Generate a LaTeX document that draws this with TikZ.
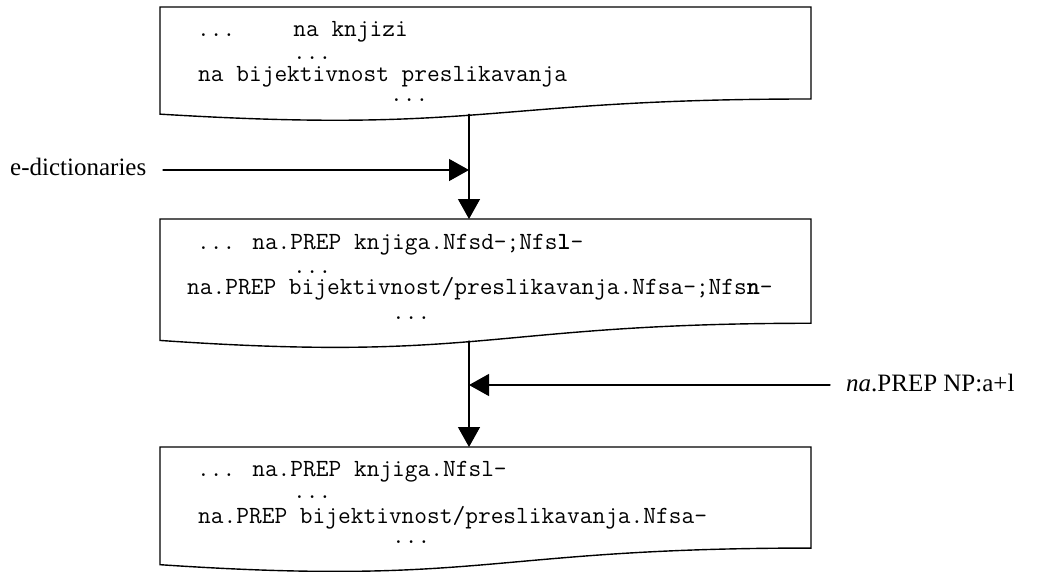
\documentclass[tikz,border=0pt]{standalone}
\usepackage{fontspec}
\setmainfont{Liberation Serif}
\usetikzlibrary{arrows.meta}
\tikzset{
  docbox/.style={line width=1.4pt,line join=miter},
  flow/.style={line width=1.3pt,-{Triangle[length=20pt,width=22pt]}},
  src/.style={font=\ttfamily\fontsize{24.7}{22}\selectfont,align=left,anchor=base west,inner sep=0pt},
  lbl/.style={font=\fontsize{25}{28}\selectfont,anchor=base west,inner sep=0pt}
}
\begin{document}
\begin{tikzpicture}[x=1pt,y=-1pt,line cap=round]
  \useasboundingbox (0,0) rectangle (1049,571);
  \foreach \t/\h in {7/114.7,219/130,447/126}
    \draw[docbox] (160,{\t+0.934*\h}) -- (160,\t) -- (811,\t) -- (811,{\t+0.802*\h})
      .. controls (485.5,{\t+0.802*\h}) and (485.5,{\t+1.1075*\h}) .. (160,{\t+0.934*\h}) -- cycle;

  % base anchor sits on the last line
  \node[src] (text1) at (197,101.5) {...\hspace{58pt}na knjizi\\[1pt]
    \hspace*{96pt}...\\
    \hspace*{1pt}na bijektivnost preslikavanja\\[-2pt]
    \hspace*{193pt}...};
  \node[src] (text2) at (187,319.5) {\hspace*{10pt}... na.PREP knjiga.Nfsd-;Nfs\textbf{l}-\\[1.5pt]
    \hspace*{106pt}...\\[-0.5pt]
    na.PREP bijektivnost/preslikavanja.Nfsa-;Nfs\textbf{n}-\\[3pt]
    \hspace*{205pt}...};
  \node[src] (text3) at (197,543) {... na.PREP knjiga.Nfsl-\\
    \hspace*{96pt}...\\[3pt]
    \hspace*{1pt}na.PREP bijektivnost/preslikavanja.Nfsa-\\[-2pt]
    \hspace*{195pt}...};

  \node[lbl] (dict) at (10,175) {e-dictionaries};
  \node[lbl] (rule) at (846,391) {\textit{na}.PREP NP:a+l};

  \coordinate (out1) at (469,114.3);
  \coordinate (in2) at (469,219);
  \coordinate (out2) at (469,341);
  \coordinate (in3) at (469,447);
  \coordinate (join1) at (469,170);
  \coordinate (join2) at (469,385);
  \coordinate (dictend) at (163,170);
  \coordinate (ruleend) at (830,385);

  \draw[flow] (out1) -- (in2);
  \draw[flow] (out2) -- (in3);
  \draw[flow] (dictend) -- (join1);
  \draw[flow] (ruleend) -- (join2);
\end{tikzpicture}
\end{document}
